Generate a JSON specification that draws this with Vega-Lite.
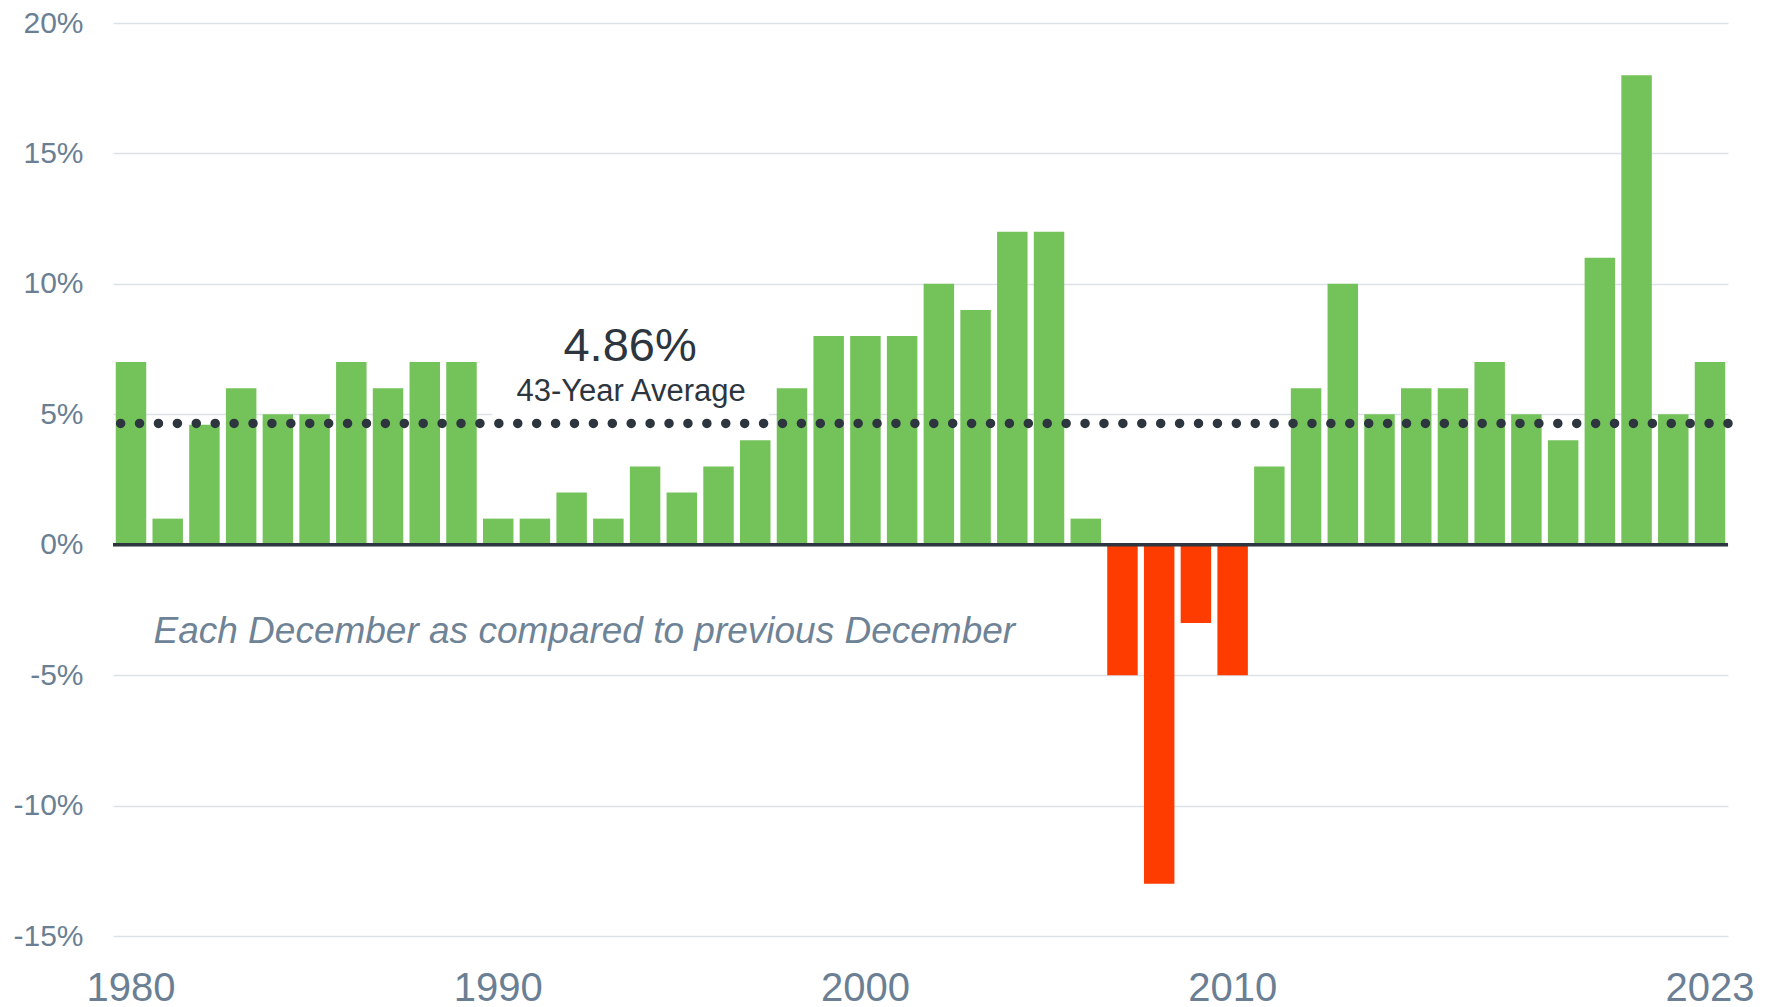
{
  "$schema": "https://vega.github.io/schema/vega-lite/v6.json",
  "width": 1615,
  "height": 913,
  "autosize": {"type": "none"},
  "padding": {"left": 113, "top": 23, "right": 48, "bottom": 71},
  "background": "white",
  "config": {
    "view": {"stroke": null},
    "font": "Liberation Sans",
    "axis": {"domain": false, "ticks": false, "tickSize": 0, "title": null}
  },
  "datasets": {
    "inflation": [
      {"year": 1980, "value": 7}, {"year": 1981, "value": 1}, {"year": 1982, "value": 4.6},
      {"year": 1983, "value": 6}, {"year": 1984, "value": 5}, {"year": 1985, "value": 5},
      {"year": 1986, "value": 7}, {"year": 1987, "value": 6}, {"year": 1988, "value": 7},
      {"year": 1989, "value": 7}, {"year": 1990, "value": 1}, {"year": 1991, "value": 1},
      {"year": 1992, "value": 2}, {"year": 1993, "value": 1}, {"year": 1994, "value": 3},
      {"year": 1995, "value": 2}, {"year": 1996, "value": 3}, {"year": 1997, "value": 4},
      {"year": 1998, "value": 6}, {"year": 1999, "value": 8}, {"year": 2000, "value": 8},
      {"year": 2001, "value": 8}, {"year": 2002, "value": 10}, {"year": 2003, "value": 9},
      {"year": 2004, "value": 12}, {"year": 2005, "value": 12}, {"year": 2006, "value": 1},
      {"year": 2007, "value": -5}, {"year": 2008, "value": -13}, {"year": 2009, "value": -3},
      {"year": 2010, "value": -5}, {"year": 2011, "value": 3}, {"year": 2012, "value": 6},
      {"year": 2013, "value": 10}, {"year": 2014, "value": 5}, {"year": 2015, "value": 6},
      {"year": 2016, "value": 6}, {"year": 2017, "value": 7}, {"year": 2018, "value": 5},
      {"year": 2019, "value": 4}, {"year": 2020, "value": 11}, {"year": 2021, "value": 18},
      {"year": 2022, "value": 5}, {"year": 2023, "value": 7}
    ],
    "one": [{}]
  },
  "layer": [
    {
      "data": {"name": "inflation"},
      "mark": {"type": "bar"},
      "encoding": {
        "x": {
          "field": "year",
          "type": "ordinal",
          "scale": {"paddingInner": 0.17, "paddingOuter": 0.075},
          "axis": {
            "values": [1980, 1990, 2000, 2010, 2023],
            "labelAngle": 0,
            "labelFontSize": 40,
            "labelColor": "#6b7f94",
            "labelBaseline": "alphabetic",
            "labelPadding": 64,
            "grid": false
          }
        },
        "y": {
          "field": "value",
          "type": "quantitative",
          "scale": {"domain": [-15, 20], "nice": false},
          "axis": {
            "values": [-15, -10, -5, 0, 5, 10, 15, 20],
            "labelExpr": "datum.value + '%'",
            "labelFontSize": 30,
            "labelColor": "#6b7f94",
            "labelPadding": 30,
            "grid": true,
            "gridColor": "#dde2e8",
            "gridWidth": 1.5
          }
        },
        "color": {
          "condition": {"test": "datum.value < 0", "value": "#ff3c00"},
          "value": "#74c35a"
        }
      }
    },
    {
      "data": {"name": "one"},
      "mark": {"type": "rect", "color": "white"},
      "encoding": {
        "x": {"datum": 1990, "type": "ordinal", "bandPosition": 0.31},
        "x2": {"datum": 1997, "bandPosition": 0.95},
        "y": {"datum": 4.86, "type": "quantitative"},
        "y2": {"datum": 8.6}
      }
    },
    {
      "data": {"name": "one"},
      "mark": {"type": "rule", "color": "#2d353e", "strokeWidth": 3.5},
      "encoding": {"y": {"datum": 0, "type": "quantitative"}}
    },
    {
      "data": {"name": "one"},
      "mark": {"type": "rule", "color": "#2d353e", "strokeWidth": 9.5, "strokeCap": "round", "strokeDash": [0.01, 18.9]},
      "encoding": {"y": {"datum": 4.65, "type": "quantitative"}}
    },
    {
      "data": {"name": "one"},
      "mark": {"type": "text", "text": "4.86%", "fontSize": 47, "color": "#2d353e", "align": "center", "baseline": "alphabetic", "dx": -15},
      "encoding": {"x": {"datum": 1994, "type": "ordinal"}, "y": {"datum": 7.05, "type": "quantitative"}}
    },
    {
      "data": {"name": "one"},
      "mark": {"type": "text", "text": "43-Year Average", "fontSize": 31, "color": "#2d353e", "align": "center", "baseline": "alphabetic", "dx": -14},
      "encoding": {"x": {"datum": 1994, "type": "ordinal"}, "y": {"datum": 5.51, "type": "quantitative"}}
    },
    {
      "data": {"name": "one"},
      "mark": {"type": "text", "text": "Each December as compared to previous December", "fontSize": 37, "fontStyle": "italic", "color": "#6f8397", "align": "left", "baseline": "alphabetic", "dx": 1},
      "encoding": {"x": {"datum": 1981, "type": "ordinal", "bandPosition": 0}, "y": {"datum": -3.76, "type": "quantitative"}}
    }
  ]
}
